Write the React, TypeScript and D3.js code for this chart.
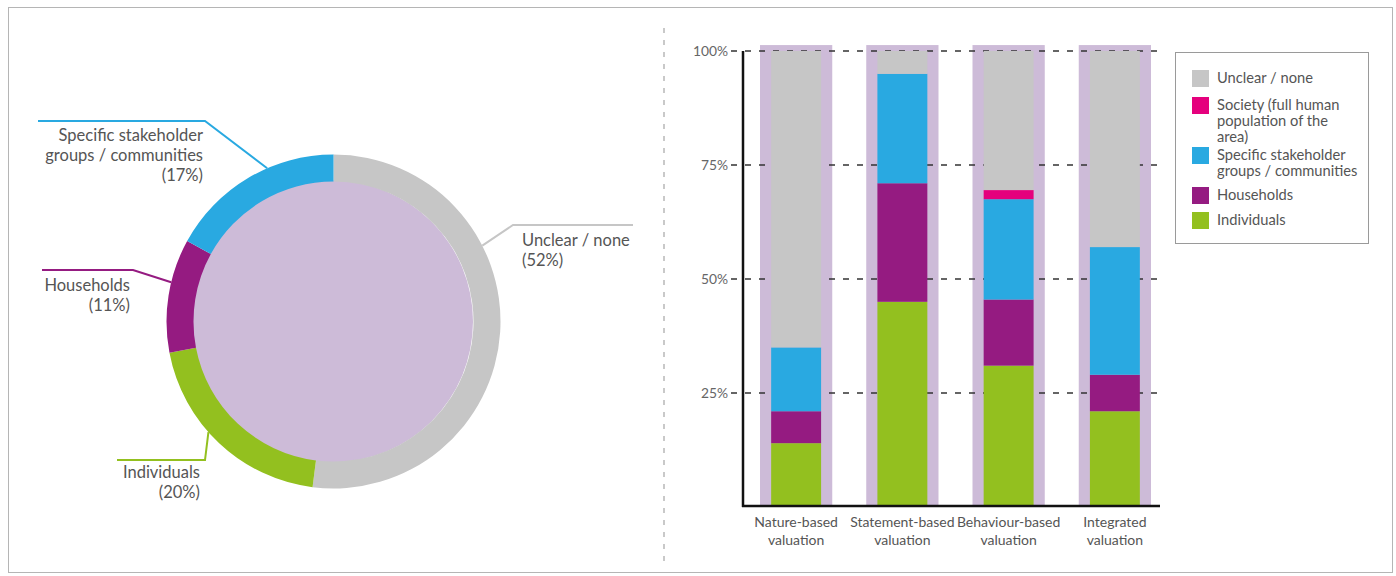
import React from "react";
import * as d3 from "d3";

// Share of studies by unit of analysis (donut)
const donutKeys = ["Unclear / none", "Individuals", "Households", "Specific stakeholder groups / communities"];
const donutValues = [52, 20, 11, 17];
const donutColors = ["#c6c6c6", "#93c01f", "#951b81", "#29a9e1"];

// Stacked bars by valuation approach
const categories = ["Nature-based valuation", "Statement-based valuation", "Behaviour-based valuation", "Integrated valuation"];
const categoryLines = [["Nature-based", "valuation"], ["Statement-based", "valuation"], ["Behaviour-based", "valuation"], ["Integrated", "valuation"]];
const seriesKeys = ["Individuals", "Households", "Specific", "Society", "Unclear"];
const individuals = [14, 45, 31, 21];
const households = [7, 26, 14.5, 8];
const specific = [14, 24, 22, 28];
const society = [0, 0, 2, 0];
const unclear = [65, 5, 30.5, 43];
const seriesColors = ["#93c01f", "#951b81", "#29a9e1", "#e5007d", "#c6c6c6"];
const yTicks = [25, 50, 75, 100];

const legendItems = [
  { color: "#c6c6c6", lines: ["Unclear / none"] },
  { color: "#e5007d", lines: ["Society (full human", "population of the", "area)"] },
  { color: "#29a9e1", lines: ["Specific stakeholder", "groups / communities"] },
  { color: "#951b81", lines: ["Households"] },
  { color: "#93c01f", lines: ["Individuals"] },
];

// Donut label layout: angle (deg, clockwise from top) where the leader leaves the ring
const donutLabels = [
  { i: 0, angle: 63, elbow: [513, 225], endX: 633, textX: 522, textY: 240, anchor: "start", lines: ["Unclear / none", "(52%)"] },
  { i: 1, angle: 228.5, elbow: [205, 460], endX: 117, textX: 200, textY: 472, anchor: "end", lines: ["Individuals", "(20%)"] },
  { i: 2, angle: 283.6, elbow: [133, 270], endX: 42, textX: 130, textY: 285, anchor: "end", lines: ["Households", "(11%)"] },
  { i: 3, angle: 336.6, elbow: [205, 121], endX: 38, textX: 203, textY: 135, anchor: "end", lines: ["Specific stakeholder", "groups / communities", "(17%)"] },
];

const FONT = "Lato, 'Open Sans', sans-serif";
const TEXT = "#555";

export default function App() {
  const cx = 333.5, cy = 321.5, rOuter = 167, rInner = 140;
  const pie = d3.pie<number>().sort(null).value((d) => d);
  const arcs = pie(donutValues);
  const arc = d3.arc<d3.PieArcDatum<number>>().innerRadius(rInner).outerRadius(rOuter);

  const x = d3.scaleBand<string>().domain(categories).range([743, 1168]).padding(0);
  const y = d3.scaleLinear().domain([0, 100]).range([507, 51]);
  const step = x.step();
  const bgW = step * 0.68;
  const barW = step * 0.47;

  const rows = categories.map((c, i) => ({
    cat: c,
    Individuals: individuals[i],
    Households: households[i],
    Specific: specific[i],
    Society: society[i],
    Unclear: unclear[i],
  }));
  const stacked = d3.stack<any>().keys(seriesKeys)(rows);

  return (
    <svg width={1396} height={576} style={{ position: "absolute", left: 0, top: 0, background: "#fff" }} fontFamily={FONT}>
      <rect x={8.5} y={7.5} width={1384} height={565} fill="none" stroke="#b5b5b5" strokeWidth={1} />
      <line x1={664} x2={664} y1={28} y2={562} stroke="#b8b8b8" strokeWidth={1.5} strokeDasharray="5 7" />

      {/* Donut */}
      <g>
        <circle cx={cx - 1.5} cy={cy} r={rInner + 1} fill="#cdbbd8" />
        <g transform={`translate(${cx},${cy})`}>
          {arcs.map((a, i) => (
            <path key={i} d={arc(a) || ""} fill={donutColors[i]} />
          ))}
        </g>
        {donutLabels.map((l) => {
          const t = (l.angle * Math.PI) / 180;
          const sx = cx + rOuter * Math.sin(t);
          const sy = cy - rOuter * Math.cos(t);
          const col = donutColors[l.i];
          return (
            <g key={l.i}>
              <polyline
                points={`${sx},${sy} ${l.elbow[0]},${l.elbow[1]} ${l.endX},${l.elbow[1]}`}
                fill="none"
                stroke={col}
                strokeWidth={2}
              />
              {l.lines.map((s, k) => (
                <text key={k} x={l.textX} y={l.textY + k * 20} dy="0.35em" textAnchor={l.anchor as any} fontSize={16.5} fill={TEXT}>
                  {s}
                </text>
              ))}
            </g>
          );
        })}
      </g>

      {/* Bars */}
      <g>
        {categories.map((c) => (
          <rect key={c} x={x(c)! + (step - bgW) / 2} y={y(101.3)} width={bgW} height={y(0) - y(101.3)} fill="#cdbbd8" />
        ))}
        {yTicks.map((t) => (
          <line key={t} x1={731} x2={1160} y1={y(t)} y2={y(t)} stroke="#333" strokeWidth={1.5} strokeDasharray="6 8" />
        ))}
        {stacked.map((s, si) =>
          s.map((d, i) =>
            d[1] - d[0] > 0 ? (
              <rect
                key={`${si}-${i}`}
                x={x(categories[i])! + (step - barW) / 2}
                y={y(d[1])}
                width={barW}
                height={y(d[0]) - y(d[1])}
                fill={seriesColors[si]}
              />
            ) : null
          )
        )}
        <line x1={743} x2={743} y1={y(100)} y2={507} stroke="#111" strokeWidth={2.5} />
        <line x1={742} x2={1160} y1={506} y2={506} stroke="#111" strokeWidth={2.5} />
        {yTicks.map((t) => (
          <text key={t} x={728} y={y(t)} dy="0.35em" textAnchor="end" fontSize={13.8} fill="#666">
            {t}%
          </text>
        ))}
        {categories.map((c, i) =>
          categoryLines[i].map((s, k) => (
            <text key={`${c}-${k}`} x={x(c)! + step / 2} y={522 + k * 18} dy="0.35em" textAnchor="middle" fontSize={14} fill={TEXT}>
              {s}
            </text>
          ))
        )}
      </g>

      {/* Legend */}
      <g>
        <rect x={1175.5} y={52.5} width={193} height={191} fill="#fff" stroke="#9a9a9a" strokeWidth={1} />
        {(() => {
          const tops = [70, 97, 147, 187, 212];
          return legendItems.map((it, i) => (
            <g key={i}>
              <rect x={1192} y={tops[i]} width={17} height={17} fill={it.color} />
              {it.lines.map((s, k) => (
                <text key={k} x={1217} y={tops[i] + 8 + k * 16} dy="0.35em" fontSize={14.7} fill={TEXT}>
                  {s}
                </text>
              ))}
            </g>
          ));
        })()}
      </g>
    </svg>
  );
}
